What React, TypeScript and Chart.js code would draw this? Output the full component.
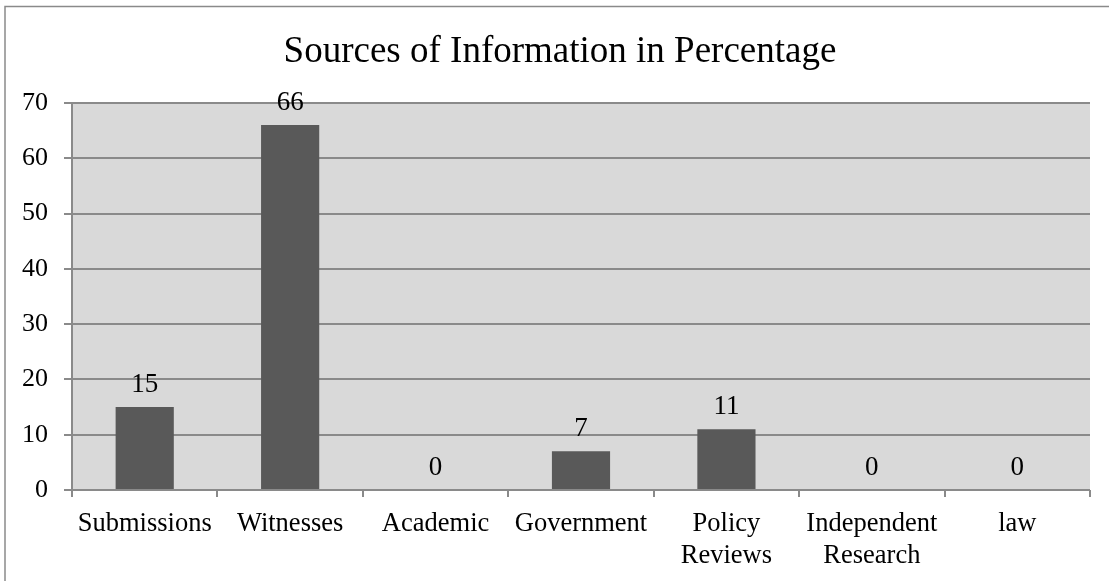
import React, { useEffect, useRef } from "react";
import { Chart, registerables } from "chart.js";

Chart.register(...registerables);

// Chart content
const titleText = "Sources of Information in Percentage";
const categories: (string | string[])[] = [
  "Submissions",
  "Witnesses",
  "Academic",
  "Government",
  ["Policy", "Reviews"],
  ["Independent", "Research"],
  "law",
];
const percentages = [15, 66, 0, 7, 11, 0, 0];
const yMin = 0;
const yMax = 70;
const yStep = 10;

const SERIF = '"Liberation Serif", "Times New Roman", serif';
const GRID = "#8a8a8a";
const PLOT_BG = "#d9d9d9";
const BAR = "#595959";

// Plot background, outer frame, title and value labels
const decorations = {
  id: "decorations",
  beforeDraw(chart: any) {
    const { ctx, chartArea } = chart;
    ctx.save();
    ctx.fillStyle = "#ffffff";
    ctx.fillRect(0, 0, chart.width, chart.height);
    ctx.fillStyle = PLOT_BG;
    ctx.fillRect(
      chartArea.left,
      chartArea.top,
      chartArea.right - chartArea.left,
      chartArea.bottom - chartArea.top
    );
    ctx.restore();
  },
  afterDraw(chart: any) {
    const { ctx } = chart;
    ctx.save();
    // outer frame (top and left edges)
    ctx.strokeStyle = GRID;
    ctx.lineWidth = 1.5;
    ctx.beginPath();
    ctx.moveTo(5, chart.height);
    ctx.lineTo(5, 6.5);
    ctx.lineTo(chart.width, 6.5);
    ctx.stroke();

    // title
    ctx.fillStyle = "#000000";
    ctx.font = `37px ${SERIF}`;
    ctx.textAlign = "center";
    ctx.textBaseline = "alphabetic";
    ctx.fillText(titleText, 560, 62);

    // value labels above bars
    const meta = chart.getDatasetMeta(0);
    ctx.font = `27px ${SERIF}`;
    meta.data.forEach((bar: any, i: number) => {
      ctx.fillText(String(percentages[i]), bar.x, bar.y - 15);
    });
    ctx.restore();
  },
};

export default function App() {
  const canvasRef = useRef<HTMLCanvasElement | null>(null);

  useEffect(() => {
    if (!canvasRef.current) return;
    const chart = new Chart(canvasRef.current, {
      type: "bar",
      data: {
        labels: categories,
        datasets: [
          {
            label: "Percentage",
            data: percentages,
            backgroundColor: BAR,
            borderWidth: 0,
            barPercentage: 0.4,
            categoryPercentage: 1,
          },
        ],
      },
      options: {
        responsive: false,
        animation: false,
        layout: { padding: { top: 103, right: 19, left: 0, bottom: 0 } },
        plugins: {
          legend: { display: false },
          title: { display: false },
          tooltip: { enabled: false },
        },
        scales: {
          x: {
            grid: {
              display: true,
              drawOnChartArea: false,
              offset: true,
              color: GRID,
              lineWidth: 2,
              tickLength: 7,
            },
            border: { display: false },
            ticks: {
              color: "#000000",
              font: { family: SERIF, size: 26.5 },
              padding: 11,
              maxRotation: 0,
              autoSkip: false,
            },
            afterFit(scale: any) {
              scale.height = 91;
            },
          },
          y: {
            min: yMin,
            max: yMax,
            grid: {
              color: GRID,
              lineWidth: 2,
              tickLength: 8,
            },
            border: { display: true, color: GRID, width: 2 },
            ticks: {
              stepSize: yStep,
              color: "#000000",
              font: { family: SERIF, size: 26 },
              padding: 16,
            },
            afterFit(scale: any) {
              scale.width = 72;
            },
          },
        },
      },
      plugins: [decorations],
    });
    return () => chart.destroy();
  }, []);

  return (
    <div style={{ position: "fixed", left: 0, top: 0, width: 1109, height: 581, background: "#fff" }}>
      <canvas ref={canvasRef} width={1109} height={581} style={{ display: "block" }} />
    </div>
  );
}
